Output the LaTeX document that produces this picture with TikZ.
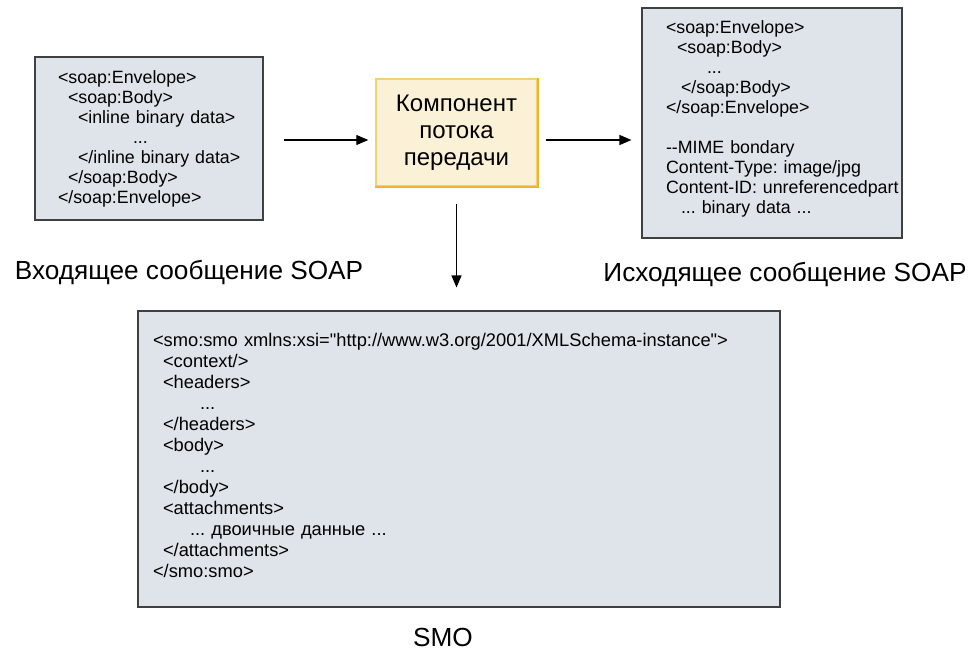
\documentclass[tikz,border=0pt]{standalone}
\usepackage{fontspec}
\setmainfont{Liberation Sans}[Ligatures=TeXOff]
\usetikzlibrary{arrows.meta}
\definecolor{boxfill}{HTML}{DEE4EA}
\definecolor{boxline}{HTML}{404040}
\definecolor{compfill}{HTML}{FAF1D6}
\definecolor{compline}{HTML}{F5CF72}
\definecolor{compshade}{HTML}{EFB232}
\begin{document}
\begin{tikzpicture}
    [
    x=1pt,y=-1pt,
    message/.style={rectangle,draw=boxline,line width=1.1pt,fill=boxfill,align=left,inner ysep=0pt,font=\fontsize{17.8}{20}\selectfont\frenchspacing},
    component/.style={rectangle,draw=compline,line width=1.4pt,fill=compfill,align=center,minimum width=161,minimum height=107,inner sep=0pt,font=\fontsize{24}{27}\selectfont},
    caption/.style={inner sep=0pt,font=\fontsize{26.2}{30}\selectfont},
    link/.style={line width=1.1pt,-{Triangle[length=12pt,width=10pt]}}
    ]
    \useasboundingbox (0,0) rectangle (971,654);
    \node (in) at (149,138.5) [message,text width=182,inner xsep=23,minimum height=163] {<soap:Envelope>\\
      \hspace*{10pt}<soap:Body>\\
      \hspace*{20pt}\mbox{<inline binary data>}\\
      \hspace*{75pt}...\\
      \hspace*{20pt}\mbox{</inline binary data>}\\
      \hspace*{10pt}</soap:Body>\\
      </soap:Envelope>};
    \node (cf) at (456.5,132.5) [component] {Компонент\\потока\\передачи};
    \node (out) at (772,123) [message,text width=212,inner xsep=24,minimum height=230] {<soap:Envelope>\\
      \hspace*{11pt}<soap:Body>\\
      \hspace*{41pt}...\\
      \hspace*{15pt}</soap:Body>\\
      </soap:Envelope>\\[20pt]
      --MIME bondary\\
      \mbox{Content-Type: image/jpg}\\
      \mbox{Content-ID: unreferencedpart}\\
      \hspace*{15pt}... binary data ...\vspace*{9pt}};
    \node (smo) at (459,459) [message,text width=612,inner xsep=15,minimum height=296,font=\fontsize{18.3}{21}\selectfont\frenchspacing] {\mbox{<smo:smo xmlns:xsi="http://www.w3.org/2001/XMLSchema-instance">}\\
      \hspace*{10pt}<context/>\\
      \hspace*{10pt}<headers>\\
      \hspace*{47pt}...\\
      \hspace*{10pt}</headers>\\
      \hspace*{10pt}<body>\\
      \hspace*{47pt}...\\
      \hspace*{10pt}</body>\\
      \hspace*{10pt}<attachments>\\
      \hspace*{37pt}... двоичные данные ...\\
      \hspace*{10pt}</attachments>\\
      </smo:smo>\vspace*{7pt}};
    \node (inlabel) at (189,272) [caption] {Входящее сообщение SOAP};
    \node (outlabel) at (785,274) [caption] {Исходящее сообщение SOAP};
    \node (smolabel) at (443,637) [caption] {SMO};
    \draw [compshade,line width=2pt] (cf.north east) -- (cf.south east) -- (cf.south west);
    \draw [link,shorten <=20pt,shorten >=7pt] ([yshift=-7.5pt]cf.west -| in.east) to ([yshift=-7.5pt]cf.west);
    \draw [link,shorten <=8pt,shorten >=10pt] ([yshift=-7.5pt]cf.east) to ([yshift=-7.5pt]cf.east -| out.west);
    \draw [link,shorten <=17pt,shorten >=23pt] (cf.south) to (cf.south |- smo.north);
  \end{tikzpicture}
\end{document}
